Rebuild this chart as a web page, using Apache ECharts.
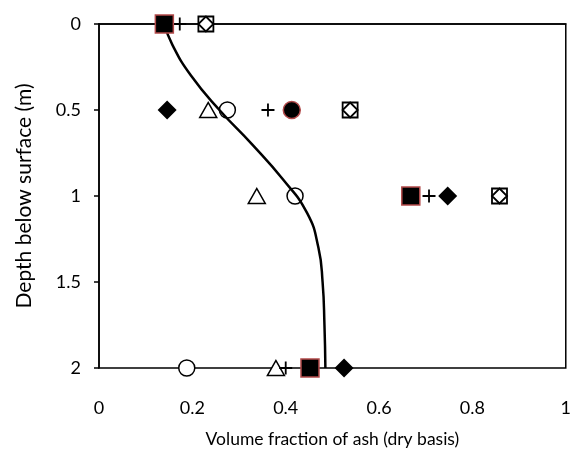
<!DOCTYPE html>
<html><head><meta charset="utf-8">
<script src="https://cdn.jsdelivr.net/npm/echarts@6/dist/echarts.min.js"></script>
<style>html,body{margin:0;padding:0;background:#fff}#c{width:574px;height:453px}</style>
</head><body><div id="c"></div>
<script>
// [volume fraction, depth]
const sqRed   = [[0.14,0],[0.668,1],[0.452,2]];
const plusPts = [[0.173,0],[0.362,0.5],[0.707,1],[0.40,2]];
const sqDia   = [[0.229,0],[0.538,0.5],[0.858,1]];
const diaPts  = [[0.146,0.5],[0.747,1],[0.525,2]];
const triPts  = [[0.234,0.5],[0.338,1],[0.379,2]];
const circPts = [[0.275,0.5],[0.42,1],[0.188,2]];
const circRed = [[0.413,0.5]];
const curveDepth = [0,0.12,0.3,0.5,0.7,0.9,1.1,1.3,1.5,1.75,2.0];
const curveFrac  = [0.14,0.157,0.197,0.258,0.328,0.393,0.446,0.47,0.479,0.483,0.485];
const xTicks = [0,0.2,0.4,0.6,0.8,1];
const yTicks = [0,0.5,1,1.5,2];

const curve = curveDepth.map((d,i)=>[curveFrac[i], d]);
const FONT = 'Lato';
const plusPath = 'path://M4.3,0h1.4v4.3h4.3v1.4h-4.3v4.3h-1.4v-4.3h-4.3v-1.4h4.3z';
const chart = echarts.init(document.getElementById('c'));
chart.setOption({
  animation:false,
  grid:{left:99,right:6,top:24,bottom:84,show:true,borderColor:'#000',borderWidth:1.5},
  xAxis:{type:'value',min:0,max:1,interval:0.2,
    name:'Volume fraction of ash (dry basis)',nameLocation:'middle',nameGap:62,
    nameTextStyle:{fontFamily:FONT,fontSize:17.5,color:'#000'},
    axisLine:{show:true,lineStyle:{color:'#000',width:1.5}},axisTick:{show:false},
    splitLine:{show:false},
    axisLabel:{margin:31,fontFamily:FONT,fontSize:18,color:'#000',
      formatter:v=>xTicks.includes(+v.toFixed(1))?String(+v.toFixed(1)):''}},
  yAxis:{type:'value',inverse:true,min:0,max:2,interval:0.5,
    name:'Depth below surface (m)',nameLocation:'middle',nameGap:64,nameRotate:90,
    nameTextStyle:{fontFamily:FONT,fontSize:21,color:'#000'},
    axisLine:{show:true,lineStyle:{color:'#000',width:1.5}},
    axisTick:{show:true,inside:false,length:5,lineStyle:{color:'#000',width:1.5}},
    splitLine:{show:false},
    axisLabel:{margin:18,fontFamily:FONT,fontSize:18,color:'#000',
      formatter:v=>yTicks.includes(v)?String(v):''}},
  series:[
    {type:'scatter',data:triPts,symbol:'triangle',symbolSize:[17,15],z:2,
      itemStyle:{color:'#fff',borderColor:'#000',borderWidth:1.5,opacity:1}},
    {type:'scatter',data:circPts,symbol:'circle',symbolSize:16,z:2,
      itemStyle:{color:'#fff',borderColor:'#000',borderWidth:1.5,opacity:1}},
    {type:'scatter',data:sqDia,symbol:'rect',symbolSize:15,z:2,
      itemStyle:{color:'#fff',borderColor:'#000',borderWidth:1.8,opacity:1}},
    {type:'scatter',data:sqDia,symbol:'diamond',symbolSize:15,z:3,
      itemStyle:{color:'#fff',borderColor:'#000',borderWidth:1.8,opacity:1}},
    {type:'scatter',data:plusPts,symbol:plusPath,symbolSize:13,z:3,
      itemStyle:{color:'#000',opacity:1}},
    {type:'scatter',data:diaPts,symbol:'diamond',symbolSize:19,z:3,
      itemStyle:{color:'#000',opacity:1}},
    {type:'line',data:curve,smooth:0.5,showSymbol:false,z:4,
      lineStyle:{color:'#000',width:2.5}},
    {type:'scatter',data:circRed,symbol:'circle',symbolSize:17,z:5,
      itemStyle:{color:'#000',borderColor:'#b24a4a',borderWidth:1.5,opacity:1}},
    {type:'scatter',data:sqRed,symbol:'rect',symbolSize:18,z:5,
      itemStyle:{color:'#000',borderColor:'#b24a4a',borderWidth:1.5,opacity:1}}
  ]
});
</script></body></html>
